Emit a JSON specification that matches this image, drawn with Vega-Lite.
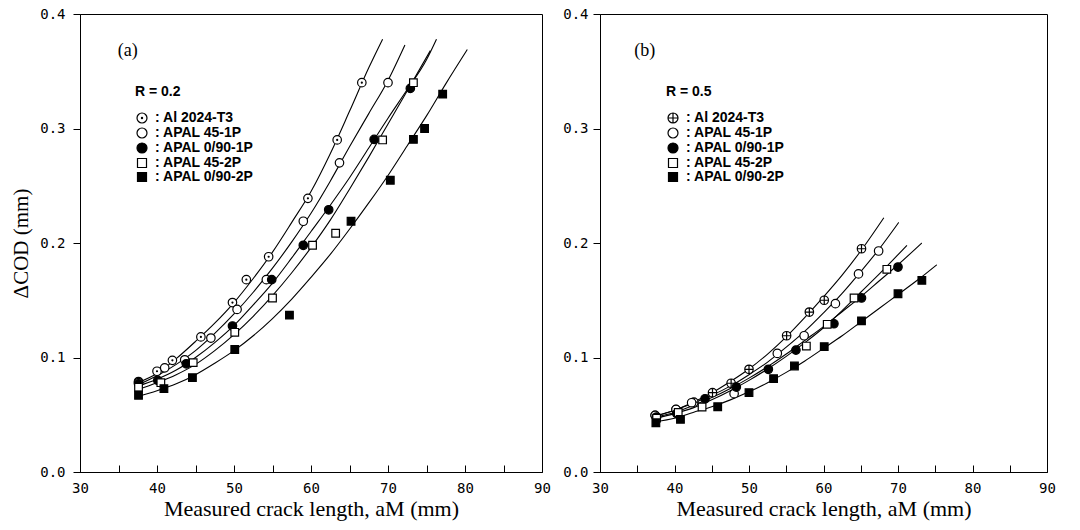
{
  "$schema": "https://vega.github.io/schema/vega-lite/v6.json",
  "padding": {"left": 10, "top": 6, "right": 5, "bottom": 4},
  "background": "white",
  "spacing": 58,
  "bounds": "flush",
  "datasets": {
    "ptsA": [
      {"series": "Al 2024-T3", "x": 37.6, "y": 0.079}, {"series": "Al 2024-T3", "x": 40.0, "y": 0.088}, {"series": "Al 2024-T3", "x": 42.0, "y": 0.0975}, {"series": "Al 2024-T3", "x": 45.7, "y": 0.118}, {"series": "Al 2024-T3", "x": 49.8, "y": 0.148}, {"series": "Al 2024-T3", "x": 51.6, "y": 0.168}, {"series": "Al 2024-T3", "x": 54.5, "y": 0.188}, {"series": "Al 2024-T3", "x": 59.6, "y": 0.239}, {"series": "Al 2024-T3", "x": 63.4, "y": 0.29}, {"series": "Al 2024-T3", "x": 66.6, "y": 0.34},
      {"series": "APAL 45-1P", "x": 37.6, "y": 0.078}, {"series": "APAL 45-1P", "x": 41.0, "y": 0.091}, {"series": "APAL 45-1P", "x": 43.6, "y": 0.098}, {"series": "APAL 45-1P", "x": 47.0, "y": 0.117}, {"series": "APAL 45-1P", "x": 50.4, "y": 0.142}, {"series": "APAL 45-1P", "x": 54.2, "y": 0.168}, {"series": "APAL 45-1P", "x": 59.0, "y": 0.219}, {"series": "APAL 45-1P", "x": 63.7, "y": 0.27}, {"series": "APAL 45-1P", "x": 70.0, "y": 0.34},
      {"series": "APAL 0/90-1P", "x": 37.6, "y": 0.077}, {"series": "APAL 0/90-1P", "x": 40.1, "y": 0.08}, {"series": "APAL 0/90-1P", "x": 43.8, "y": 0.0945}, {"series": "APAL 0/90-1P", "x": 49.8, "y": 0.1275}, {"series": "APAL 0/90-1P", "x": 54.9, "y": 0.168}, {"series": "APAL 0/90-1P", "x": 59.0, "y": 0.198}, {"series": "APAL 0/90-1P", "x": 62.3, "y": 0.229}, {"series": "APAL 0/90-1P", "x": 68.2, "y": 0.2905}, {"series": "APAL 0/90-1P", "x": 72.9, "y": 0.335},
      {"series": "APAL 45-2P", "x": 37.6, "y": 0.074}, {"series": "APAL 45-2P", "x": 40.5, "y": 0.078}, {"series": "APAL 45-2P", "x": 44.7, "y": 0.0955}, {"series": "APAL 45-2P", "x": 50.1, "y": 0.122}, {"series": "APAL 45-2P", "x": 55.0, "y": 0.152}, {"series": "APAL 45-2P", "x": 60.2, "y": 0.198}, {"series": "APAL 45-2P", "x": 63.2, "y": 0.2085}, {"series": "APAL 45-2P", "x": 69.3, "y": 0.29}, {"series": "APAL 45-2P", "x": 73.3, "y": 0.34},
      {"series": "APAL 0/90-2P", "x": 37.6, "y": 0.067}, {"series": "APAL 0/90-2P", "x": 40.9, "y": 0.0728}, {"series": "APAL 0/90-2P", "x": 44.6, "y": 0.0824}, {"series": "APAL 0/90-2P", "x": 50.1, "y": 0.107}, {"series": "APAL 0/90-2P", "x": 57.2, "y": 0.137}, {"series": "APAL 0/90-2P", "x": 65.2, "y": 0.219}, {"series": "APAL 0/90-2P", "x": 70.3, "y": 0.2548}, {"series": "APAL 0/90-2P", "x": 73.3, "y": 0.2905}, {"series": "APAL 0/90-2P", "x": 74.75, "y": 0.3}, {"series": "APAL 0/90-2P", "x": 77.1, "y": 0.33}
    ],
    "crvA": [
      {"series": "Al 2024-T3", "x": 37.5, "y": 0.078}, {"series": "Al 2024-T3", "x": 40, "y": 0.086}, {"series": "Al 2024-T3", "x": 42.5, "y": 0.099}, {"series": "Al 2024-T3", "x": 45, "y": 0.114}, {"series": "Al 2024-T3", "x": 47.5, "y": 0.13}, {"series": "Al 2024-T3", "x": 50, "y": 0.148}, {"series": "Al 2024-T3", "x": 52.5, "y": 0.169}, {"series": "Al 2024-T3", "x": 55, "y": 0.192}, {"series": "Al 2024-T3", "x": 57.5, "y": 0.218}, {"series": "Al 2024-T3", "x": 60, "y": 0.245}, {"series": "Al 2024-T3", "x": 62.5, "y": 0.278}, {"series": "Al 2024-T3", "x": 65, "y": 0.315}, {"series": "Al 2024-T3", "x": 67.5, "y": 0.353}, {"series": "Al 2024-T3", "x": 69.3, "y": 0.378},
      {"series": "APAL 45-1P", "x": 37.5, "y": 0.076}, {"series": "APAL 45-1P", "x": 40, "y": 0.084}, {"series": "APAL 45-1P", "x": 42.5, "y": 0.094}, {"series": "APAL 45-1P", "x": 45, "y": 0.106}, {"series": "APAL 45-1P", "x": 47.5, "y": 0.121}, {"series": "APAL 45-1P", "x": 50, "y": 0.138}, {"series": "APAL 45-1P", "x": 52.5, "y": 0.157}, {"series": "APAL 45-1P", "x": 55, "y": 0.178}, {"series": "APAL 45-1P", "x": 57.5, "y": 0.201}, {"series": "APAL 45-1P", "x": 60, "y": 0.226}, {"series": "APAL 45-1P", "x": 62.5, "y": 0.254}, {"series": "APAL 45-1P", "x": 65, "y": 0.284}, {"series": "APAL 45-1P", "x": 67.5, "y": 0.313}, {"series": "APAL 45-1P", "x": 70, "y": 0.342}, {"series": "APAL 45-1P", "x": 72.2, "y": 0.373},
      {"series": "APAL 0/90-1P", "x": 37.5, "y": 0.075}, {"series": "APAL 0/90-1P", "x": 40, "y": 0.081}, {"series": "APAL 0/90-1P", "x": 42.5, "y": 0.089}, {"series": "APAL 0/90-1P", "x": 45, "y": 0.1}, {"series": "APAL 0/90-1P", "x": 47.5, "y": 0.113}, {"series": "APAL 0/90-1P", "x": 50, "y": 0.128}, {"series": "APAL 0/90-1P", "x": 52.5, "y": 0.146}, {"series": "APAL 0/90-1P", "x": 55, "y": 0.165}, {"series": "APAL 0/90-1P", "x": 57.5, "y": 0.187}, {"series": "APAL 0/90-1P", "x": 60, "y": 0.21}, {"series": "APAL 0/90-1P", "x": 62.5, "y": 0.233}, {"series": "APAL 0/90-1P", "x": 65, "y": 0.257}, {"series": "APAL 0/90-1P", "x": 67.5, "y": 0.283}, {"series": "APAL 0/90-1P", "x": 70, "y": 0.309}, {"series": "APAL 0/90-1P", "x": 72.5, "y": 0.334}, {"series": "APAL 0/90-1P", "x": 75, "y": 0.36}, {"series": "APAL 0/90-1P", "x": 76.3, "y": 0.378},
      {"series": "APAL 45-2P", "x": 37.5, "y": 0.072}, {"series": "APAL 45-2P", "x": 40, "y": 0.078}, {"series": "APAL 45-2P", "x": 42.5, "y": 0.085}, {"series": "APAL 45-2P", "x": 45, "y": 0.094}, {"series": "APAL 45-2P", "x": 47.5, "y": 0.106}, {"series": "APAL 45-2P", "x": 50, "y": 0.12}, {"series": "APAL 45-2P", "x": 52.5, "y": 0.136}, {"series": "APAL 45-2P", "x": 55, "y": 0.154}, {"series": "APAL 45-2P", "x": 57.5, "y": 0.174}, {"series": "APAL 45-2P", "x": 60, "y": 0.196}, {"series": "APAL 45-2P", "x": 62.5, "y": 0.22}, {"series": "APAL 45-2P", "x": 65, "y": 0.247}, {"series": "APAL 45-2P", "x": 67.5, "y": 0.275}, {"series": "APAL 45-2P", "x": 70, "y": 0.304}, {"series": "APAL 45-2P", "x": 72.5, "y": 0.333}, {"series": "APAL 45-2P", "x": 75.5, "y": 0.368},
      {"series": "APAL 0/90-2P", "x": 37.5, "y": 0.066}, {"series": "APAL 0/90-2P", "x": 40, "y": 0.071}, {"series": "APAL 0/90-2P", "x": 42.5, "y": 0.077}, {"series": "APAL 0/90-2P", "x": 45, "y": 0.085}, {"series": "APAL 0/90-2P", "x": 47.5, "y": 0.095}, {"series": "APAL 0/90-2P", "x": 50, "y": 0.106}, {"series": "APAL 0/90-2P", "x": 52.5, "y": 0.119}, {"series": "APAL 0/90-2P", "x": 55, "y": 0.134}, {"series": "APAL 0/90-2P", "x": 57.5, "y": 0.151}, {"series": "APAL 0/90-2P", "x": 60, "y": 0.17}, {"series": "APAL 0/90-2P", "x": 62.5, "y": 0.19}, {"series": "APAL 0/90-2P", "x": 65, "y": 0.212}, {"series": "APAL 0/90-2P", "x": 67.5, "y": 0.235}, {"series": "APAL 0/90-2P", "x": 70, "y": 0.259}, {"series": "APAL 0/90-2P", "x": 72.5, "y": 0.285}, {"series": "APAL 0/90-2P", "x": 75, "y": 0.311}, {"series": "APAL 0/90-2P", "x": 77.5, "y": 0.339}, {"series": "APAL 0/90-2P", "x": 80.3, "y": 0.369}
    ],
    "ptsB": [
      {"series": "Al 2024-T3", "x": 37.4, "y": 0.0495}, {"series": "Al 2024-T3", "x": 40.2, "y": 0.0545}, {"series": "Al 2024-T3", "x": 42.6, "y": 0.061}, {"series": "Al 2024-T3", "x": 45.1, "y": 0.0693}, {"series": "Al 2024-T3", "x": 47.6, "y": 0.0775}, {"series": "Al 2024-T3", "x": 50.0, "y": 0.0897}, {"series": "Al 2024-T3", "x": 55.05, "y": 0.119}, {"series": "Al 2024-T3", "x": 58.1, "y": 0.1397}, {"series": "Al 2024-T3", "x": 60.1, "y": 0.15}, {"series": "Al 2024-T3", "x": 65.1, "y": 0.195},
      {"series": "APAL 45-1P", "x": 37.4, "y": 0.0495}, {"series": "APAL 45-1P", "x": 40.2, "y": 0.0547}, {"series": "APAL 45-1P", "x": 42.3, "y": 0.0605}, {"series": "APAL 45-1P", "x": 48.0, "y": 0.0684}, {"series": "APAL 45-1P", "x": 53.8, "y": 0.1036}, {"series": "APAL 45-1P", "x": 57.4, "y": 0.119}, {"series": "APAL 45-1P", "x": 61.6, "y": 0.147}, {"series": "APAL 45-1P", "x": 64.7, "y": 0.173}, {"series": "APAL 45-1P", "x": 67.4, "y": 0.193},
      {"series": "APAL 0/90-1P", "x": 37.6, "y": 0.048}, {"series": "APAL 0/90-1P", "x": 40.3, "y": 0.051}, {"series": "APAL 0/90-1P", "x": 44.1, "y": 0.064}, {"series": "APAL 0/90-1P", "x": 48.3, "y": 0.0742}, {"series": "APAL 0/90-1P", "x": 52.6, "y": 0.0897}, {"series": "APAL 0/90-1P", "x": 56.3, "y": 0.1065}, {"series": "APAL 0/90-1P", "x": 61.4, "y": 0.1295}, {"series": "APAL 0/90-1P", "x": 65.1, "y": 0.152}, {"series": "APAL 0/90-1P", "x": 70.0, "y": 0.179},
      {"series": "APAL 45-2P", "x": 37.6, "y": 0.047}, {"series": "APAL 45-2P", "x": 40.5, "y": 0.052}, {"series": "APAL 45-2P", "x": 43.7, "y": 0.0568}, {"series": "APAL 45-2P", "x": 57.7, "y": 0.11}, {"series": "APAL 45-2P", "x": 60.5, "y": 0.129}, {"series": "APAL 45-2P", "x": 64.1, "y": 0.152}, {"series": "APAL 45-2P", "x": 68.5, "y": 0.177},
      {"series": "APAL 0/90-2P", "x": 37.5, "y": 0.043}, {"series": "APAL 0/90-2P", "x": 40.8, "y": 0.046}, {"series": "APAL 0/90-2P", "x": 45.8, "y": 0.057}, {"series": "APAL 0/90-2P", "x": 50.0, "y": 0.0693}, {"series": "APAL 0/90-2P", "x": 53.3, "y": 0.0815}, {"series": "APAL 0/90-2P", "x": 56.1, "y": 0.0926}, {"series": "APAL 0/90-2P", "x": 60.1, "y": 0.1095}, {"series": "APAL 0/90-2P", "x": 65.1, "y": 0.132}, {"series": "APAL 0/90-2P", "x": 70.0, "y": 0.1557}, {"series": "APAL 0/90-2P", "x": 73.2, "y": 0.1674}
    ],
    "crvB": [
      {"series": "Al 2024-T3", "x": 37.5, "y": 0.049}, {"series": "Al 2024-T3", "x": 40, "y": 0.054}, {"series": "Al 2024-T3", "x": 42.5, "y": 0.061}, {"series": "Al 2024-T3", "x": 45, "y": 0.069}, {"series": "Al 2024-T3", "x": 47.5, "y": 0.079}, {"series": "Al 2024-T3", "x": 50, "y": 0.09}, {"series": "Al 2024-T3", "x": 52.5, "y": 0.103}, {"series": "Al 2024-T3", "x": 55, "y": 0.118}, {"series": "Al 2024-T3", "x": 57.5, "y": 0.135}, {"series": "Al 2024-T3", "x": 60, "y": 0.153}, {"series": "Al 2024-T3", "x": 62.5, "y": 0.172}, {"series": "Al 2024-T3", "x": 65, "y": 0.193}, {"series": "Al 2024-T3", "x": 68.1, "y": 0.222},
      {"series": "APAL 45-1P", "x": 37.5, "y": 0.049}, {"series": "APAL 45-1P", "x": 40, "y": 0.054}, {"series": "APAL 45-1P", "x": 42.5, "y": 0.06}, {"series": "APAL 45-1P", "x": 45, "y": 0.067}, {"series": "APAL 45-1P", "x": 47.5, "y": 0.075}, {"series": "APAL 45-1P", "x": 50, "y": 0.085}, {"series": "APAL 45-1P", "x": 52.5, "y": 0.096}, {"series": "APAL 45-1P", "x": 55, "y": 0.109}, {"series": "APAL 45-1P", "x": 57.5, "y": 0.123}, {"series": "APAL 45-1P", "x": 60, "y": 0.139}, {"series": "APAL 45-1P", "x": 62.5, "y": 0.156}, {"series": "APAL 45-1P", "x": 65, "y": 0.175}, {"series": "APAL 45-1P", "x": 67.5, "y": 0.195}, {"series": "APAL 45-1P", "x": 70.1, "y": 0.218},
      {"series": "APAL 0/90-1P", "x": 37.5, "y": 0.048}, {"series": "APAL 0/90-1P", "x": 40, "y": 0.052}, {"series": "APAL 0/90-1P", "x": 42.5, "y": 0.058}, {"series": "APAL 0/90-1P", "x": 45, "y": 0.065}, {"series": "APAL 0/90-1P", "x": 47.5, "y": 0.073}, {"series": "APAL 0/90-1P", "x": 50, "y": 0.082}, {"series": "APAL 0/90-1P", "x": 52.5, "y": 0.092}, {"series": "APAL 0/90-1P", "x": 55, "y": 0.103}, {"series": "APAL 0/90-1P", "x": 57.5, "y": 0.115}, {"series": "APAL 0/90-1P", "x": 60, "y": 0.127}, {"series": "APAL 0/90-1P", "x": 62.5, "y": 0.14}, {"series": "APAL 0/90-1P", "x": 65, "y": 0.153}, {"series": "APAL 0/90-1P", "x": 67.5, "y": 0.167}, {"series": "APAL 0/90-1P", "x": 70, "y": 0.181}, {"series": "APAL 0/90-1P", "x": 73.2, "y": 0.2},
      {"series": "APAL 45-2P", "x": 37.5, "y": 0.047}, {"series": "APAL 45-2P", "x": 40, "y": 0.051}, {"series": "APAL 45-2P", "x": 42.5, "y": 0.056}, {"series": "APAL 45-2P", "x": 45, "y": 0.063}, {"series": "APAL 45-2P", "x": 47.5, "y": 0.071}, {"series": "APAL 45-2P", "x": 50, "y": 0.08}, {"series": "APAL 45-2P", "x": 52.5, "y": 0.09}, {"series": "APAL 45-2P", "x": 55, "y": 0.101}, {"series": "APAL 45-2P", "x": 57.5, "y": 0.113}, {"series": "APAL 45-2P", "x": 60, "y": 0.126}, {"series": "APAL 45-2P", "x": 62.5, "y": 0.141}, {"series": "APAL 45-2P", "x": 65, "y": 0.157}, {"series": "APAL 45-2P", "x": 67.5, "y": 0.173}, {"series": "APAL 45-2P", "x": 71.2, "y": 0.198},
      {"series": "APAL 0/90-2P", "x": 37.5, "y": 0.044}, {"series": "APAL 0/90-2P", "x": 40, "y": 0.047}, {"series": "APAL 0/90-2P", "x": 42.5, "y": 0.052}, {"series": "APAL 0/90-2P", "x": 45, "y": 0.057}, {"series": "APAL 0/90-2P", "x": 47.5, "y": 0.063}, {"series": "APAL 0/90-2P", "x": 50, "y": 0.07}, {"series": "APAL 0/90-2P", "x": 52.5, "y": 0.078}, {"series": "APAL 0/90-2P", "x": 55, "y": 0.087}, {"series": "APAL 0/90-2P", "x": 57.5, "y": 0.097}, {"series": "APAL 0/90-2P", "x": 60, "y": 0.108}, {"series": "APAL 0/90-2P", "x": 62.5, "y": 0.119}, {"series": "APAL 0/90-2P", "x": 65, "y": 0.131}, {"series": "APAL 0/90-2P", "x": 67.5, "y": 0.143}, {"series": "APAL 0/90-2P", "x": 70, "y": 0.155}, {"series": "APAL 0/90-2P", "x": 72.5, "y": 0.167}, {"series": "APAL 0/90-2P", "x": 75.2, "y": 0.181}
    ],
    "lblA": [{"x": 36.2, "y": 0.368, "label": "(a)"}],
    "lblB": [{"x": 36.0, "y": 0.368, "label": "(b)"}]
  },
  "hconcat": [
    {
      "width": 462,
      "height": 458,
      "encoding": {
        "x": {"field": "x", "type": "quantitative", "scale": {"domain": [30, 90], "nice": false, "zero": false},
          "axis": {"title": "Measured crack length, aM (mm)", "titleFontSize": 22, "values": [30, 35, 40, 45, 50, 55, 60, 65, 70, 75, 80, 85, 90], "labelExpr": "datum.value % 10 === 0 ? datum.label : ''", "tickSize": -7, "labelPadding": 16, "titlePadding": 3, "labelFlush": false}},
        "y": {"field": "y", "type": "quantitative", "scale": {"domain": [0, 0.4], "nice": false},
          "axis": {"title": "ΔCOD (mm)", "values": [0, 0.1, 0.2, 0.3, 0.4], "format": ".1f", "tickSize": 7, "labelPadding": 8, "titlePadding": 8}}
      },
      "layer": [
        {"data": {"name": "crvA"}, "mark": {"type": "line", "interpolate": "monotone", "color": "black", "strokeWidth": 1.1}, "encoding": {"detail": {"field": "series"}}},
        {"data": {"name": "ptsA"}, "mark": {"type": "point", "filled": true, "stroke": "black", "strokeWidth": 1.2, "opacity": 1, "size": 72},
          "encoding": {
            "shape": {"field": "series", "type": "nominal",
              "scale": {"domain": ["Al 2024-T3", "APAL 45-1P", "APAL 0/90-1P", "APAL 45-2P", "APAL 0/90-2P"],
                "range": ["M-1,0A1,1,0,1,1,1,0A1,1,0,1,1,-1,0ZM-0.12,0A0.12,0.12,0,1,1,0.12,0A0.12,0.12,0,1,1,-0.12,0Z", "M-1,0A1,1,0,1,1,1,0A1,1,0,1,1,-1,0Z", "M-1,0A1,1,0,1,1,1,0A1,1,0,1,1,-1,0Z", "M-0.9,-0.9H0.9V0.9H-0.9Z", "M-0.9,-0.9H0.9V0.9H-0.9Z"]},
              "legend": {"title": "R = 0.2", "orient": "none", "legendX": 55, "legendY": 71, "labelExpr": "': ' + datum.label",
                "encode": {"symbols": {"update": {"stroke": {"value": "black"}, "strokeWidth": {"value": 1.2}}}}}},
            "fill": {"field": "series", "type": "nominal",
              "scale": {"domain": ["Al 2024-T3", "APAL 45-1P", "APAL 0/90-1P", "APAL 45-2P", "APAL 0/90-2P"], "range": ["white", "white", "black", "white", "black"]},
              "legend": {"title": "R = 0.2", "orient": "none", "legendX": 55, "legendY": 71, "labelExpr": "': ' + datum.label",
                "encode": {"symbols": {"update": {"stroke": {"value": "black"}, "strokeWidth": {"value": 1.2}}}}}}
          }},
        {"data": {"name": "lblA"}, "mark": {"type": "text", "font": "Liberation Serif", "fontSize": 18, "color": "black"}, "encoding": {"text": {"field": "label"}}}
      ]
    },
    {
      "width": 447,
      "height": 458,
      "encoding": {
        "x": {"field": "x", "type": "quantitative", "scale": {"domain": [30, 90], "nice": false, "zero": false},
          "axis": {"title": "Measured crack length, aM (mm)", "titleFontSize": 22, "values": [30, 35, 40, 45, 50, 55, 60, 65, 70, 75, 80, 85, 90], "labelExpr": "datum.value % 10 === 0 ? datum.label : ''", "tickSize": -7, "labelPadding": 16, "titlePadding": 3, "labelFlush": false}},
        "y": {"field": "y", "type": "quantitative", "scale": {"domain": [0, 0.4], "nice": false},
          "axis": {"title": null, "values": [0, 0.1, 0.2, 0.3, 0.4], "format": ".1f", "tickSize": 7, "labelPadding": 5}}
      },
      "layer": [
        {"data": {"name": "crvB"}, "mark": {"type": "line", "interpolate": "monotone", "color": "black", "strokeWidth": 1.1}, "encoding": {"detail": {"field": "series"}}},
        {"data": {"name": "ptsB"}, "mark": {"type": "point", "filled": true, "stroke": "black", "strokeWidth": 1.2, "opacity": 1, "size": 72},
          "encoding": {
            "shape": {"field": "series", "type": "nominal",
              "scale": {"domain": ["Al 2024-T3", "APAL 45-1P", "APAL 0/90-1P", "APAL 45-2P", "APAL 0/90-2P"],
                "range": ["M-1,0A1,1,0,1,1,1,0A1,1,0,1,1,-1,0ZM-1,0L1,0M0,-1L0,1", "M-1,0A1,1,0,1,1,1,0A1,1,0,1,1,-1,0Z", "M-1,0A1,1,0,1,1,1,0A1,1,0,1,1,-1,0Z", "M-0.9,-0.9H0.9V0.9H-0.9Z", "M-0.9,-0.9H0.9V0.9H-0.9Z"]},
              "legend": {"title": "R = 0.5", "orient": "none", "legendX": 66, "legendY": 71, "labelExpr": "': ' + datum.label",
                "encode": {"symbols": {"update": {"stroke": {"value": "black"}, "strokeWidth": {"value": 1.2}}}}}},
            "fill": {"field": "series", "type": "nominal",
              "scale": {"domain": ["Al 2024-T3", "APAL 45-1P", "APAL 0/90-1P", "APAL 45-2P", "APAL 0/90-2P"], "range": ["white", "white", "black", "white", "black"]},
              "legend": {"title": "R = 0.5", "orient": "none", "legendX": 66, "legendY": 71, "labelExpr": "': ' + datum.label",
                "encode": {"symbols": {"update": {"stroke": {"value": "black"}, "strokeWidth": {"value": 1.2}}}}}}
          }},
        {"data": {"name": "lblB"}, "mark": {"type": "text", "font": "Liberation Serif", "fontSize": 18, "color": "black"}, "encoding": {"text": {"field": "label"}}}
      ]
    }
  ],
  "resolve": {
    "scale": {"shape": "independent", "fill": "independent"},
    "legend": {"shape": "independent", "fill": "independent"}
  },
  "config": {
    "view": {"stroke": "black", "strokeWidth": 1},
    "axis": {"domainColor": "black", "domainWidth": 1, "tickColor": "black", "tickWidth": 1, "labelColor": "black", "labelFont": "DejaVu Sans Mono", "labelFontSize": 14, "titleFont": "Liberation Serif", "titleFontSize": 21, "titleFontWeight": "normal", "titleColor": "black", "grid": false},
    "legend": {"titleFont": "Liberation Sans", "titleFontSize": 14, "titleFontWeight": "bold", "titleColor": "black", "titlePadding": 12, "labelFont": "Liberation Sans", "labelFontSize": 14, "labelFontWeight": "bold", "labelColor": "black", "labelOffset": 6, "labelLimit": 300, "symbolSize": 100, "symbolStrokeColor": "black", "symbolStrokeWidth": 1.2, "symbolOpacity": 1, "rowPadding": -2.5, "padding": 0}
  }
}
